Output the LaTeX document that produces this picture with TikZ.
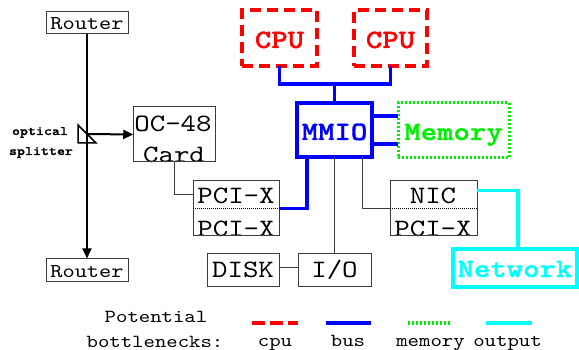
\documentclass[tikz,border=0pt]{standalone}
\usepackage{fontspec}
\newfontfamily\cour{lmmono10-regular}[Extension=.otf,FakeStretch=1.18]
\newfontfamily\courb{lmmonolt10-bold}[Extension=.otf,FakeStretch=1.18,FakeBold=1.2]
\usetikzlibrary{arrows.meta}
\definecolor{cpuc}{RGB}{255,0,0}
\definecolor{busc}{RGB}{0,0,255}
\definecolor{memc}{RGB}{0,238,0}
\definecolor{outc}{RGB}{0,255,255}
\definecolor{linec}{RGB}{60,60,60}
\tikzset{
  box/.style={draw=linec, line width=1pt, inner sep=0pt, outer sep=0pt},
  cpubox/.style={draw=cpuc, line width=3.5pt, dash pattern=on 11pt off 6pt, inner sep=0pt, outer sep=0pt},
  busbox/.style={draw=busc, line width=3.5pt, inner sep=0pt, outer sep=0pt},
  membox/.style={draw=memc, line width=3pt, dash pattern=on 2pt off 2pt, inner sep=0pt, outer sep=0pt},
  outbox/.style={draw=outc, line width=3.5pt, inner sep=0pt, outer sep=0pt},
  txt/.style={inner sep=0pt, anchor=base, font=\cour\fontsize{25}{25}\selectfont},
  rtxt/.style={inner sep=0pt, anchor=base, font=\cour\fontsize{19.7}{20}\selectfont},
  btxt/.style={inner sep=0pt, anchor=base, font=\courb\fontsize{26.5}{27}\selectfont},
  stxt/.style={inner sep=0pt, anchor=base, font=\courb\fontsize{12.9}{13}\selectfont},
  ltxt/.style={inner sep=0pt, anchor=base, font=\cour\fontsize{18.4}{19}\selectfont},
  thin/.style={draw=linec, line width=1pt},
  busline/.style={draw=busc, line width=3.5pt},
  outline/.style={draw=outc, line width=3.5pt},
  divider/.style={draw=black, line width=0.8pt, dash pattern=on 1pt off 1pt},
  fiber/.style={draw=black, line width=2pt, -{Triangle[length=10pt,width=9pt]}},
}
\begin{document}
\begin{tikzpicture}[x=1pt,y=-1pt]
\useasboundingbox (0,0) rectangle (579,350);

% text first
\node[rtxt] (r1t) at (87,30) {Router};
\node[rtxt] (r2t) at (87,277) {Router};
\node[stxt] (opt) at (40,135) {optical};
\node[stxt] (spl) at (41,155) {splitter};
\node[txt] (oct) at (173,132) {OC-48};
\node[txt] (cdt) at (174,163) {Card};
\node[txt] (p1t) at (236,204) {PCI-X};
\node[txt] (p2t) at (236,236.5) {PCI-X};
\node[txt] (nit) at (433,204) {NIC};
\node[txt] (p3t) at (433,236.5) {PCI-X};
\node[txt] (dkt) at (243,277) {DISK};
\node[txt] (iot) at (334.5,277) {I/O};
\node[btxt, text=cpuc] (c1t) at (279.5,48) {CPU};
\node[btxt, text=cpuc] (c2t) at (390.5,48) {CPU};
\node[btxt, text=busc] (mmt) at (334.5,140) {MMIO};
\node[btxt, text=memc] (met) at (453.5,140) {Memory};
\node[btxt, text=outc] (nwt) at (515,277) {Network};
\node[ltxt] (pot) at (156,322.5) {Potential};
\node[ltxt] (bot) at (155,347) {bottlenecks:};
\node[ltxt] (lcpu) at (275,346) {cpu};
\node[ltxt] (lbus) at (348,346) {bus};
\node[ltxt] (lmem) at (430.5,346) {memory};
\node[ltxt] (lout) at (507.5,346) {output};

% boxes
\node[box, minimum width=82pt, minimum height=22pt] (r1) at (87,23) {};
\node[box, minimum width=82pt, minimum height=23pt] (r2) at (87,270) {};
\node[box, minimum width=82.5pt, minimum height=55pt] (oc) at (174.5,134.5) {};
\node[box, minimum width=86pt, minimum height=55pt] (pci) at (236,208.5) {};
\node[box, minimum width=87pt, minimum height=55pt] (nic) at (433.5,208.5) {};
\node[box, minimum width=72pt, minimum height=32pt] (disk) at (243,270) {};
\node[box, minimum width=73pt, minimum height=32pt] (io) at (334.5,270) {};
\node[cpubox, minimum width=75pt, minimum height=56pt] (cpu1) at (279.5,38) {};
\node[cpubox, minimum width=73pt, minimum height=56pt] (cpu2) at (390.5,38) {};
\node[busbox, minimum width=75pt, minimum height=54pt] (mmio) at (334.5,130) {};
\node[membox, minimum width=111pt, minimum height=55pt] (mem) at (453.5,130.5) {};
\node[outbox, minimum width=124pt, minimum height=38pt] (net) at (515,268) {};

% dividers
\draw[divider] (pci.west) -- (pci.east);
\draw[divider] (nic.west) -- (nic.east);

% splitter
\coordinate (split) at (87,134);
\draw[fiber] (r1.south) -- (r2.north);
\draw[black, line width=1.5pt, line join=miter] (78,125) -- (78,143) -- (96,143) -- cycle;
\draw[fiber] (split) -- (oc.west);

% connections
\coordinate (cpubus) at (334.5,84);
\draw[busline, line join=miter] (cpu1.south) |- (cpubus) -| (cpu2.south);
\draw[busline] (cpubus) -- (mmio.north);
\draw[busline] ([yshift=14pt]mmio.east) -- ([yshift=14pt]mmio.east -| mem.west);
\draw[busline] ([yshift=-14pt]mmio.east) -- ([yshift=-14pt]mmio.east -| mem.west);
\draw[busline, line join=miter] (pci.east) -| ([xshift=-27.5pt]mmio.south);
\draw[thin] (oc.south) |- ([yshift=14pt]pci.west);
\draw[thin] (mmio.south) -- (io.north);
\draw[thin] ([xshift=27.5pt]mmio.south) |- (nic.west);
\draw[thin] ([yshift=2pt]disk.east) -- ([yshift=2pt]io.west);
\draw[outline, line join=miter] ([yshift=18pt]nic.east) -| ([xshift=3pt]net.north);

% legend
\coordinate (lc1) at (252,323); \coordinate (lc2) at (298,323);
\coordinate (lb1) at (326,323); \coordinate (lb2) at (371,323);
\coordinate (lm1) at (408,323); \coordinate (lm2) at (452,323);
\coordinate (lo1) at (486,323); \coordinate (lo2) at (532,323);
\draw[draw=cpuc, line width=4pt, dash pattern=on 13pt off 5pt] (lc1) -- (lc2);
\draw[draw=busc, line width=4pt] (lb1) -- (lb2);
\draw[draw=memc, line width=4pt, dash pattern=on 2pt off 2pt] (lm1) -- (lm2);
\draw[draw=outc, line width=4pt] (lo1) -- (lo2);
\end{tikzpicture}
\end{document}
